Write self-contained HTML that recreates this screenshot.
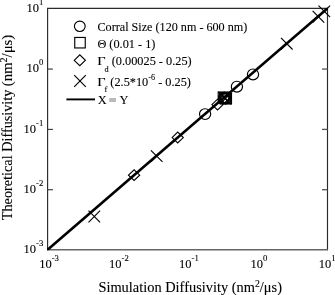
<!DOCTYPE html><html><head><meta charset="utf-8"><style>html,body{margin:0;padding:0;background:#fff}svg{display:block;will-change:transform}text{font-family:"Liberation Serif",serif;fill:#000;stroke:#000;stroke-width:0.1px}</style></head><body>
<svg width="335" height="295" viewBox="0 0 335 295">
<rect width="335" height="295" fill="#fff"/>
<path d="M47.6 250.29999999999998V8.4H327.5V250.29999999999998" fill="none" stroke="#2a2a2a" stroke-width="1.15"/>
<line x1="47.1" y1="249.7" x2="328.0" y2="249.7" stroke="#666" stroke-width="1.4"/>
<line x1="47.6" y1="189.72" x2="52.9" y2="189.72" stroke="#333" stroke-width="1.1"/>
<line x1="327.5" y1="189.72" x2="322.0" y2="189.72" stroke="#555" stroke-width="1.3"/>
<line x1="47.6" y1="129.40" x2="52.9" y2="129.40" stroke="#333" stroke-width="1.1"/>
<line x1="327.5" y1="129.40" x2="322.0" y2="129.40" stroke="#555" stroke-width="1.3"/>
<line x1="47.6" y1="69.07" x2="52.9" y2="69.07" stroke="#333" stroke-width="1.1"/>
<line x1="327.5" y1="69.07" x2="322.0" y2="69.07" stroke="#555" stroke-width="1.3"/>
<text x="43.3" y="253.20" text-anchor="end" font-size="12.5"><tspan>10</tspan><tspan dy="-6.9" font-size="8.7">-3</tspan></text>
<text x="43.3" y="192.88" text-anchor="end" font-size="12.5"><tspan>10</tspan><tspan dy="-6.9" font-size="8.7">-2</tspan></text>
<text x="43.3" y="132.55" text-anchor="end" font-size="12.5"><tspan>10</tspan><tspan dy="-6.9" font-size="8.7">-1</tspan></text>
<text x="43.3" y="72.22" text-anchor="end" font-size="12.5"><tspan>10</tspan><tspan dy="-6.9" font-size="8.7">0</tspan></text>
<text x="43.3" y="11.90" text-anchor="end" font-size="12.5"><tspan>10</tspan><tspan dy="-6.9" font-size="8.7">1</tspan></text>
<text x="49.00" y="268" text-anchor="middle" font-size="12.5"><tspan>10</tspan><tspan dy="-6.9" font-size="8.7">-3</tspan></text>
<text x="118.97" y="268" text-anchor="middle" font-size="12.5"><tspan>10</tspan><tspan dy="-6.9" font-size="8.7">-2</tspan></text>
<text x="188.95" y="268" text-anchor="middle" font-size="12.5"><tspan>10</tspan><tspan dy="-6.9" font-size="8.7">-1</tspan></text>
<text x="258.92" y="268" text-anchor="middle" font-size="12.5"><tspan>10</tspan><tspan dy="-6.9" font-size="8.7">0</tspan></text>
<text x="327.20" y="268" text-anchor="middle" font-size="12.5"><tspan>10</tspan><tspan dy="-6.9" font-size="8.7">1</tspan></text>
<text x="190.2" y="291.6" text-anchor="middle" font-size="14" textLength="183.6" lengthAdjust="spacingAndGlyphs">Simulation Diffusivity (nm<tspan dy="-5" font-size="9.5">2</tspan><tspan dy="5">/μs)</tspan></text>
<text transform="translate(12.3,220.2) rotate(-90)" font-size="14" textLength="130.6" lengthAdjust="spacingAndGlyphs">Theoretical Diffusivity</text>
<text transform="translate(12.3,86.3) rotate(-90)" font-size="14" textLength="51.6" lengthAdjust="spacingAndGlyphs">(nm<tspan dy="-5" font-size="9.5">2</tspan><tspan dy="5">/μs)</tspan></text>
<clipPath id="c"><rect x="47.050000000000004" y="7.8500000000000005" width="281.00" height="242.50"/></clipPath>
<line x1="44.6" y1="252.29" x2="330.5" y2="5.81" stroke="#000" stroke-width="2.65" clip-path="url(#c)"/>
<ellipse cx="205.10" cy="114.10" rx="5.6" ry="5.3999999999999995" stroke="#000" stroke-width="1.15" fill="none"/>
<ellipse cx="236.90" cy="86.70" rx="5.6" ry="5.3999999999999995" stroke="#000" stroke-width="1.15" fill="none"/>
<ellipse cx="253.00" cy="74.40" rx="5.6" ry="5.3999999999999995" stroke="#000" stroke-width="1.15" fill="none"/>
<ellipse cx="224.00" cy="97.60" rx="5.5" ry="5.3" stroke="#000" stroke-width="1.15" fill="none"/>
<ellipse cx="225.60" cy="98.60" rx="5.5" ry="5.3" stroke="#000" stroke-width="1.15" fill="none"/>
<rect x="218.20" y="92.00" width="10.6" height="10.6" stroke="#000" stroke-width="1.15" fill="none"/>
<rect x="219.70" y="92.70" width="10.6" height="10.6" stroke="#000" stroke-width="1.15" fill="none"/>
<rect x="220.90" y="93.40" width="10.6" height="10.6" stroke="#000" stroke-width="1.15" fill="none"/>
<path d="M128.50 175.13L134.10 169.73L139.70 175.13L134.10 180.53Z" stroke="#000" stroke-width="1.15" fill="none"/>
<path d="M172.10 137.54L177.70 132.14L183.30 137.54L177.70 142.94Z" stroke="#000" stroke-width="1.15" fill="none"/>
<path d="M211.90 104.60L217.50 99.20L223.10 104.60L217.50 110.00Z" stroke="#000" stroke-width="1.15" fill="none"/>
<path d="M218.70 97.70L224.30 92.30L229.90 97.70L224.30 103.10Z" stroke="#000" stroke-width="1.15" fill="none"/>
<path d="M219.80 98.50L225.40 93.10L231.00 98.50L225.40 103.90Z" stroke="#000" stroke-width="1.15" fill="none"/>
<path d="M88.50 210.70L100.10 222.30M88.50 222.30L100.10 210.70" stroke="#000" stroke-width="1.15" fill="none"/>
<path d="M150.90 150.35L162.50 161.95M150.90 161.95L162.50 150.35" stroke="#000" stroke-width="1.15" fill="none"/>
<path d="M281.00 37.89L292.60 49.49M281.00 49.49L292.60 37.89" stroke="#000" stroke-width="1.15" fill="none"/>
<path d="M312.60 10.95L324.20 22.55M312.60 22.55L324.20 10.95" stroke="#000" stroke-width="1.15" fill="none"/>
<path d="M318.50 5.56L330.10 17.16M318.50 17.16L330.10 5.56" stroke="#000" stroke-width="1.15" fill="none"/>
<path d="M218.40 91.80L230.00 103.40M218.40 103.40L230.00 91.80" stroke="#000" stroke-width="1.15" fill="none"/>
<path d="M219.70 92.80L231.30 104.40M219.70 104.40L231.30 92.80" stroke="#000" stroke-width="1.15" fill="none"/>
<ellipse cx="79.80" cy="26.30" rx="5.4" ry="5.2" stroke="#000" stroke-width="1.15" fill="none"/>
<rect x="74.75" y="37.45" width="10.5" height="10.5" stroke="#000" stroke-width="1.15" fill="none"/>
<path d="M74.20 60.30L79.80 54.90L85.40 60.30L79.80 65.70Z" stroke="#000" stroke-width="1.15" fill="none"/>
<path d="M74.20 75.20L85.80 86.80M74.20 86.80L85.80 75.20" stroke="#000" stroke-width="1.15" fill="none"/>
<line x1="66.4" y1="99.4" x2="95" y2="99.4" stroke="#000" stroke-width="1.9"/>
<text x="97.5" y="30.5" font-size="12.3" textLength="149.8" lengthAdjust="spacingAndGlyphs">Corral Size (120 nm - 600 nm)</text>
<text x="97.4" y="47.6" font-size="12.3">Θ (0.01 - 1)</text>
<text transform="translate(97.3,65.3) scale(1.17,1)" font-size="12.3">Γ</text>
<text x="104.5" y="65.3" font-size="12.3"><tspan dy="6.6" font-size="8.3">d</tspan><tspan dy="-6.6"> (0.00025 - 0.25)</tspan></text>
<text transform="translate(97.3,85.8) scale(1.17,1)" font-size="12.3">Γ</text>
<text x="104.5" y="85.8" font-size="12.3"><tspan dy="6.6" font-size="8.3">f</tspan><tspan dy="-6.6"> (2.5*10</tspan><tspan dy="-6.1" font-size="8.2">-6</tspan><tspan dy="6.1"> - 0.25)</tspan></text>
<text x="97.7" y="103.7" font-size="12.4">X</text>
<text x="119.5" y="103.7" font-size="12.4">Y</text>
<path d="M109.2 99H116M109.2 100.9H116" stroke="#a4a4a4" stroke-width="1.5" fill="none"/>
</svg></body></html>
